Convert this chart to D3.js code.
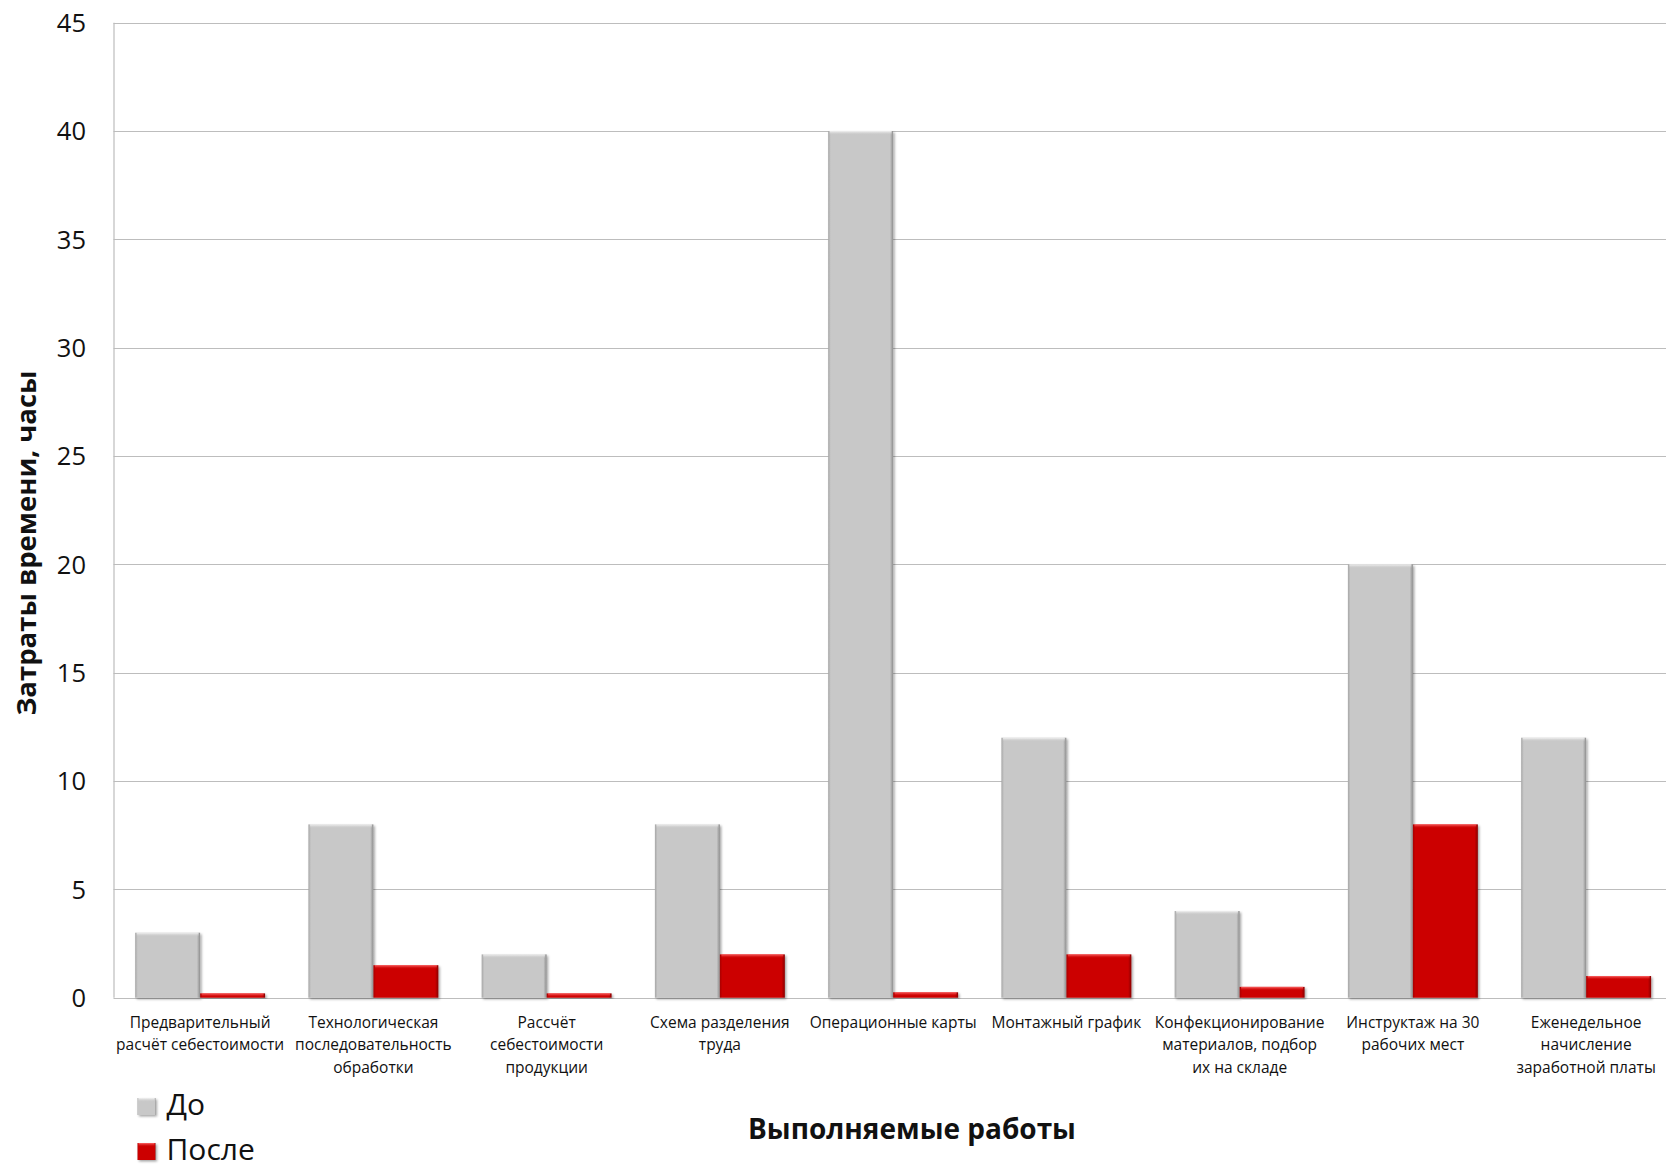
<!DOCTYPE html>
<html><head><meta charset="utf-8">
<script src="https://cdn.jsdelivr.net/npm/d3@7/dist/d3.min.js"></script>
<style>
html,body{margin:0;padding:0;background:#fff;}
svg{display:block;}
text{font-family:"Open Sans","Noto Sans",sans-serif;fill:#111;}
</style></head>
<body>
<svg id="chart" width="1666" height="1168"></svg>
<script>
const categories = [
  "Предварительный\nрасчёт себестоимости",
  "Технологическая\nпоследовательность\nобработки",
  "Рассчёт\nсебестоимости\nпродукции",
  "Схема разделения\nтруда",
  "Операционные карты",
  "Монтажный график",
  "Конфекционирование\nматериалов, подбор\nих на складе",
  "Инструктаж на 30\nрабочих мест",
  "Еженедельное\nначисление\nзаработной платы"
];
const seriesNames = ["До", "После"];
const valuesBefore = [3, 8, 2, 8, 40, 12, 4, 20, 12];
const valuesAfter  = [0.2, 1.5, 0.2, 2, 0.25, 2, 0.5, 8, 1];
const yTicks = [0, 5, 10, 15, 20, 25, 30, 35, 40, 45];
const yTitle = "Затраты времени, часы";
const xTitle = "Выполняемые работы";

(function(){
const svg = d3.select("#chart");
const pLeft = 113.5, pTop = 22.7, pBottom = 997.7;
const catW = 173.25;
const pRight = pLeft + catW * categories.length;

const x = d3.scaleBand().domain(categories).range([pLeft, pRight]).paddingInner(0.25).paddingOuter(0.125);
const xs = d3.scaleBand().domain(seriesNames).range([0, x.bandwidth()]);
const y = d3.scaleLinear().domain([0, 45]).range([pBottom, pTop]);

const colors = {"До": {base:"#c8c8c8", edgeL:"#a6a6a6", edgeR:"#8e8e8e", hi:"#f4f4f4"},
                "После": {base:"#cc0000", edgeL:"#a80000", edgeR:"#8a0000", hi:"#ff6a6a"}};

const defs = svg.append("defs");
const f = defs.append("filter").attr("id","shadow").attr("x","-20%").attr("y","-20%").attr("width","140%").attr("height","140%");
f.append("feDropShadow").attr("dx",1.5).attr("dy",1.5).attr("stdDeviation",1.3).attr("flood-color","#000").attr("flood-opacity",0.35);
seriesNames.forEach((s,i)=>{
  const c = colors[s];
  const g = defs.append("linearGradient").attr("id","h"+i).attr("x1",0).attr("x2",1).attr("y1",0).attr("y2",0);
  g.append("stop").attr("offset","0%").attr("stop-color",c.edgeL);
  g.append("stop").attr("offset","4%").attr("stop-color",c.base);
  g.append("stop").attr("offset","95%").attr("stop-color",c.base);
  g.append("stop").attr("offset","100%").attr("stop-color",c.edgeR);
  const v = defs.append("linearGradient").attr("id","v"+i).attr("x1",0).attr("x2",0).attr("y1",0).attr("y2",1);
  v.append("stop").attr("offset","0%").attr("stop-color",c.hi);
  v.append("stop").attr("offset","100%").attr("stop-color",c.base).attr("stop-opacity",0);
});

// gridlines
svg.append("g").selectAll("line").data(yTicks).join("line")
  .attr("x1", pLeft).attr("x2", pRight)
  .attr("y1", d=>Math.round(y(d))+0.5).attr("y2", d=>Math.round(y(d))+0.5)
  .attr("stroke", "#bdbdbd").attr("stroke-width", 1.2);
svg.append("line").attr("x1", pLeft+0.5).attr("x2", pLeft+0.5).attr("y1", y(45)).attr("y2", y(0))
  .attr("stroke", "#bdbdbd").attr("stroke-width", 1.2);

// y tick labels
svg.append("g").selectAll("text").data(yTicks).join("text")
  .attr("x", 86).attr("y", d=>y(d)).attr("dy","0.36em")
  .attr("text-anchor","end").attr("font-size", 25.5).text(d=>d);

// bars
const data = categories.map((c,i)=>({cat:c, vals:[valuesBefore[i], valuesAfter[i]]}));
const groups = svg.append("g").selectAll("g").data(data).join("g")
  .attr("transform", d=>`translate(${x(d.cat)},0)`);
groups.each(function(d){
  const g = d3.select(this);
  seriesNames.forEach((s,i)=>{
    const v = d.vals[i];
    const bx = xs(s), bw = xs.bandwidth(), by = y(v), bh = y(0)-y(v);
    g.append("rect").attr("x",bx).attr("y",by).attr("width",bw).attr("height",bh)
      .attr("fill","url(#h"+i+")").attr("filter","url(#shadow)");
    g.append("rect").attr("x",bx+1.5).attr("y",by).attr("width",bw-3).attr("height",Math.min(4,bh))
      .attr("fill","url(#v"+i+")");
  });
});

// category labels
const labels = svg.append("g").selectAll("text").data(categories).join("text")
  .attr("text-anchor","middle").attr("font-size", 15.5)
  .attr("transform", d=>`translate(${x(d)+x.bandwidth()/2},1028.3)`);
labels.each(function(d){
  const t = d3.select(this);
  d.split("\n").forEach((line,k)=>{
    t.append("tspan").attr("x",0).attr("y",k*22.2).text(line);
  });
});

// axis titles
svg.append("text").attr("x", 912).attr("y", 1139.3).attr("text-anchor","middle")
  .attr("font-size", 28).attr("font-weight","bold").text(xTitle);
svg.append("text").attr("transform","translate(36,543) rotate(-90)").attr("text-anchor","middle")
  .attr("font-size", 27.5).attr("font-weight","bold").text(yTitle);

// legend
const leg = svg.append("g").selectAll("g").data(seriesNames).join("g")
  .attr("transform",(d,i)=>`translate(137.5,${1115 + i*45})`);
leg.append("rect").attr("x",0).attr("y",-17).attr("width",18).attr("height",17)
  .attr("fill",(d,i)=>"url(#h"+i+")").attr("filter","url(#shadow)");
leg.append("rect").attr("x",1).attr("y",-17).attr("width",16).attr("height",4)
  .attr("fill",(d,i)=>"url(#v"+i+")");
leg.append("text").attr("x",29).attr("y",0).attr("font-size",30).text(d=>d);
})();
</script>
</body></html>
